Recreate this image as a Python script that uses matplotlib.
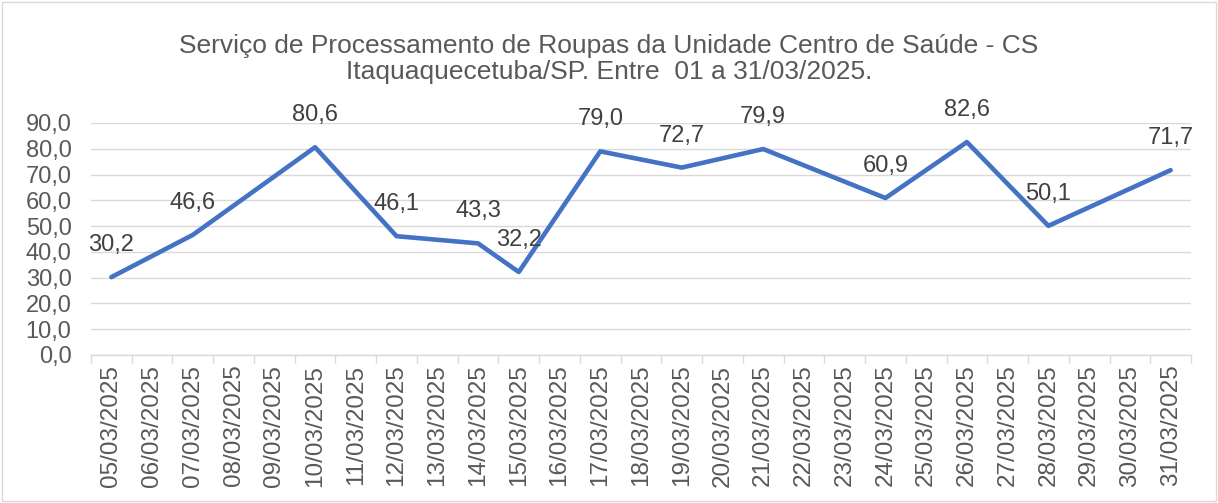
import matplotlib.pyplot as plt
from matplotlib.patches import Rectangle

# category axis: every day from 05/03 to 31/03
days = list(range(5, 32))
date_labels = ['%02d/03/2025' % d for d in days]

# measured days and values
point_days = [5, 7, 10, 12, 14, 15, 17, 19, 21, 24, 26, 28, 31]
point_values = [30.2, 46.6, 80.6, 46.1, 43.3, 32.2, 79.0, 72.7, 79.9, 60.9, 82.6, 50.1, 71.7]

title_text = 'Serviço de Processamento de Roupas da Unidade Centro de Saúde - CS\nItaquaquecetuba/SP. Entre  01 a 31/03/2025.'

plt.rcParams['font.family'] = ['Liberation Sans', 'DejaVu Sans']
GRAY = '#595959'

fig = plt.figure(figsize=(12.18, 5.03), dpi=100)
ax = fig.add_axes([91 / 1218, 1 - 355 / 503, 1100 / 1218, 232 / 503])

xs = [days.index(d) for d in point_days]
ax.plot(xs, point_values, color='#4472C4', lw=3.3, solid_capstyle='round', solid_joinstyle='round', zorder=3)

for x, v in zip(xs, point_values):
  ax.annotate(('%.1f' % v).replace('.', ','), (x, v), xytext=(0, 23), textcoords='offset points',
              ha='center', va='center', fontsize=17, color='#404040', zorder=4)

ax.set_xlim(-0.5, len(days) - 0.5)
ax.set_ylim(0, 90)
ax.set_yticks(range(0, 91, 10))
ax.set_yticklabels([('%.1f' % t).replace('.', ',') for t in range(0, 91, 10)])
ax.set_xticks(range(len(days)))
ax.set_xticklabels(date_labels, rotation=90)
ax.set_xticks([i - 0.5 for i in range(len(days) + 1)], minor=True)
ax.tick_params(axis='x', which='major', length=0, pad=7, labelsize=17.5, labelcolor=GRAY)
ax.tick_params(axis='x', which='minor', length=6, color='#D9D9D9', width=1)
ax.tick_params(axis='y', length=0, pad=14, labelsize=17, labelcolor=GRAY)

ax.grid(axis='y', color='#D9D9D9', lw=1)
ax.set_axisbelow(True)
for s in ['top', 'right', 'left']:
  ax.spines[s].set_visible(False)
ax.spines['bottom'].set_color('#D9D9D9')
ax.spines['bottom'].set_linewidth(1)

fig.text(0.5, 1 - 59 / 503, title_text, ha='center', va='center', fontsize=19, color=GRAY, linespacing=1.12)

fig.patches.append(Rectangle((0.002, 0.003), 0.996, 0.994, transform=fig.transFigure,
                             fill=False, edgecolor='#D9D9D9', lw=1))

fig.savefig('out.png', dpi=100)
